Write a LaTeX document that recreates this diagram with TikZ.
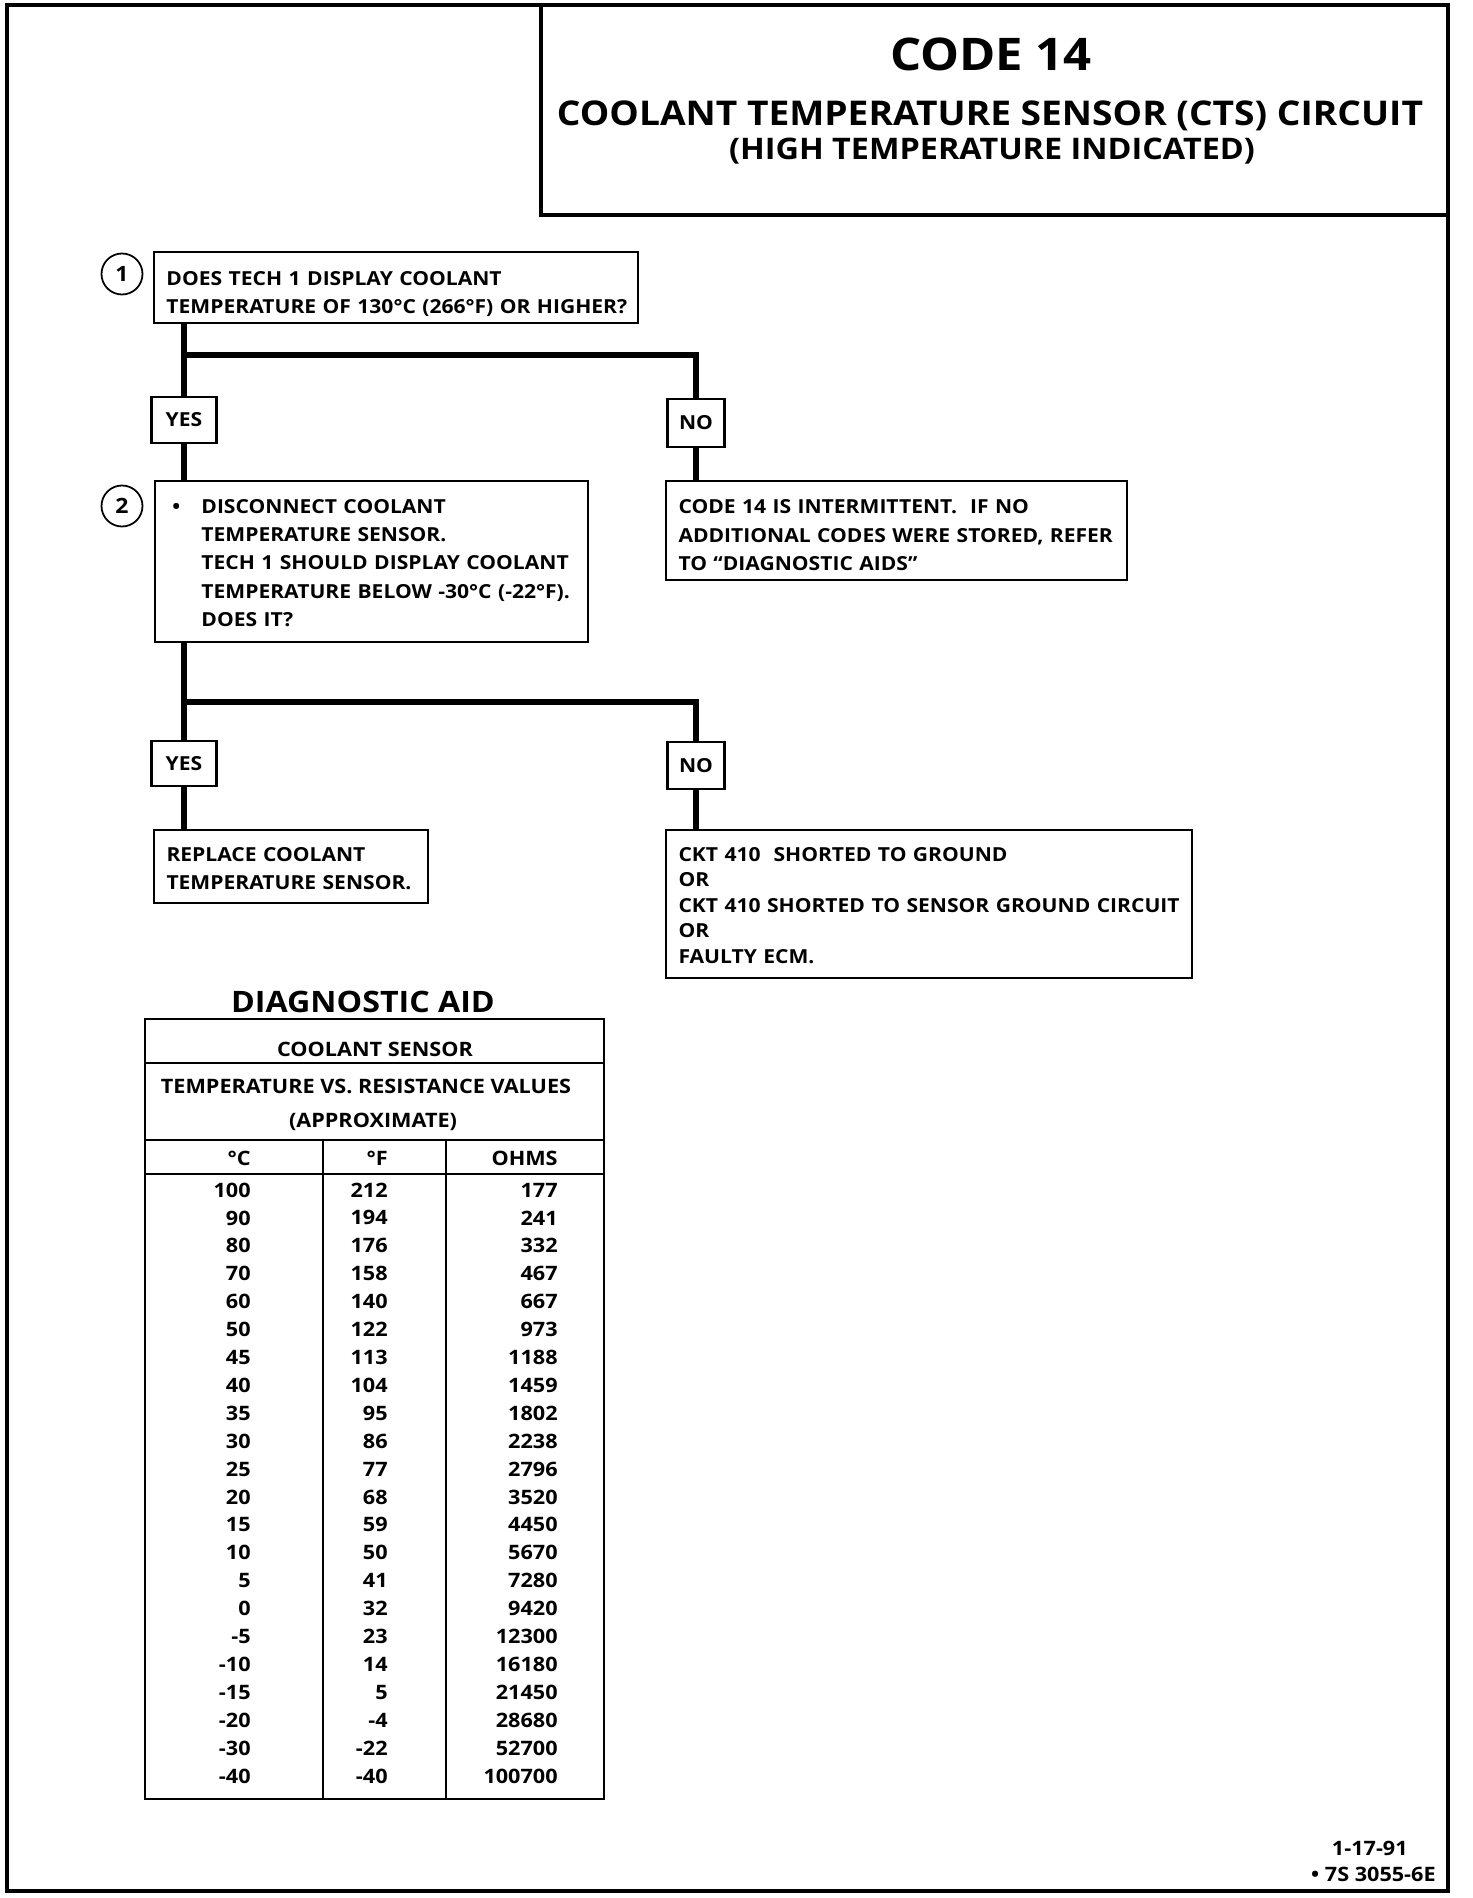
\documentclass[tikz,border=0pt]{standalone}
\usepackage{fontspec}
\setmainfont{Open Sans}[FakeStretch=1.09]
\newcommand{\filas}[2][3pt]{\raisebox{-#1}[\height][\depth]{\begin{tabular}[t]{@{}l@{}}#2\end{tabular}}}

\begin{document}
\begin{tikzpicture}[x=0.2mm, y=-0.2mm,
  caja/.style={draw, line width=1.3pt, inner xsep=2.5mm, inner ysep=0pt, align=left, font=\bfseries\fontsize{11}{16}\selectfont},
  resp/.style={draw, line width=1.3pt, inner sep=0pt, font=\bfseries\fontsize{11}{13}\selectfont},
  paso/.style={circle, draw, line width=1pt, minimum size=8.2mm, inner sep=0pt, font=\bfseries\fontsize{12}{14}\selectfont},
  flujo/.style={line width=3.2pt},
  marco/.style={line width=2.5pt},
  tabla/.style={line width=1.4pt},
  celda/.style={inner sep=0pt, font=\bfseries\fontsize{11.3}{13}\selectfont}]
\useasboundingbox (0,0) rectangle (1472,1898);
\draw[marco] (7,5) rectangle (1448,1891);
% titulo
\draw[line width=1.8pt] (541,5) rectangle (1448,215);
\node[font=\bfseries\fontsize{25.6}{30}\selectfont] (cod) at (991,54) {CODE 14};
\node[font=\bfseries\fontsize{19.4}{23}\selectfont] (tit) at (990,116) {COOLANT TEMPERATURE SENSOR (CTS) CIRCUIT};
\node[font=\bfseries\fontsize{16.9}{20}\selectfont] (sub) at (992,151) {(HIGH TEMPERATURE INDICATED)};

% paso 1
\node[paso] (n1) at (122,274) {1};
\node[caja, text width=91.8mm, minimum height=14.2mm] (p1) at (396,287.5)
  {\filas[3.4pt]{DOES TECH 1 DISPLAY COOLANT\\ TEMPERATURE OF 130°C (266°F) OR HIGHER?}};
\coordinate (rama1) at (184,355);
\node[resp, minimum width=13mm, minimum height=9.2mm] (si1) at (184,420) {YES};
\node[resp, minimum width=11.4mm, minimum height=9.6mm] (no1) at (696,423) {NO};
\node[caja, text width=87.2mm, minimum height=19.8mm] (r1) at (896.5,530.5)
  {\filas[3.4pt]{CODE 14 IS INTERMITTENT.\ \ IF NO\\ ADDITIONAL CODES WERE STORED, REFER\\ TO “DIAGNOSTIC AIDS”}};

% paso 2
\node[paso] (n2) at (122,506) {2};
\node[caja, text width=81.6mm, minimum height=32.2mm] (p2) at (371.5,561.5)
  {\raisebox{-1.6pt}[\height][\depth]{\hspace{1mm}\textbullet\hspace{4.2mm}\filas[0pt]{DISCONNECT COOLANT\\ TEMPERATURE SENSOR.\\ TECH 1 SHOULD DISPLAY COOLANT\\ TEMPERATURE BELOW -30°C (-22°F).\\ DOES IT?}}};
\coordinate (rama2) at (184,702);
\node[resp, minimum width=13mm, minimum height=9mm] (si2) at (184,763.5) {YES};
\node[resp, minimum width=11.4mm, minimum height=9.4mm] (no2) at (696,765.5) {NO};
\node[caja, text width=49.8mm, minimum height=14.6mm] (r2) at (291,866.5)
  {\filas[2pt]{REPLACE COOLANT\\ TEMPERATURE SENSOR.}};
\node[caja, text width=100.2mm, minimum height=29.6mm, font=\bfseries\fontsize{11}{14.5}\selectfont] (r3) at (929,904)
  {\filas[1.8pt]{CKT 410\ \ SHORTED TO GROUND\\ OR\\ CKT 410 SHORTED TO SENSOR GROUND CIRCUIT\\ OR\\ FAULTY ECM.}};

\draw[flujo] (si1 |- p1.south) -- (si1.north);
\draw[flujo] (rama1) -| (no1.north);
\draw[flujo] (si1.south) -- (si1 |- p2.north);
\draw[flujo] (no1.south) -- (no1 |- r1.north);
\draw[flujo] (si2 |- p2.south) -- (si2.north);
\draw[flujo] (rama2) -| (no2.north);
\draw[flujo] (si2.south) -- (si2 |- r2.north);
\draw[flujo] (no2.south) -- (no2 |- r3.north);

% tabla
\node[font=\bfseries\fontsize{16.8}{20}\selectfont] (aid) at (363,1002) {DIAGNOSTIC AID};
\draw[tabla] (145,1019) rectangle (604,1799);
\draw[tabla] (145,1063) -- (604,1063);
\draw[tabla] (145,1140) -- (604,1140);
\draw[tabla] (145,1174) -- (604,1174);
\draw[tabla] (323,1140) -- (323,1799);
\draw[tabla] (446,1140) -- (446,1799);
\node[celda] (sensor) at (375,1049) {COOLANT SENSOR};
\node[celda] (valores) at (366,1086) {TEMPERATURE VS. RESISTANCE VALUES};
\node[celda] (aprox) at (373,1122) {(APPROXIMATE)};
\node[celda, anchor=east] (hc) at (251,1158) {°C};
\node[celda, anchor=east] (hf) at (388,1158) {°F};
\node[celda, anchor=east] (ho) at (558,1158) {OHMS};
\foreach \c/\f/\o [count=\i from 0] in {100/212/177, 90/194/241, 80/176/332,
    70/158/467, 60/140/667, 50/122/973, 45/113/1188, 40/104/1459, 35/95/1802,
    30/86/2238, 25/77/2796, 20/68/3520, 15/59/4450, 10/50/5670, 5/41/7280,
    0/32/9420, -5/23/12300, -10/14/16180, -15/5/21450, -20/-4/28680,
    -30/-22/52700, -40/-40/100700} {
  \node[celda, anchor=east] (c\i) at (251,1190+27.9*\i) {\c};
  \node[celda, anchor=east] (f\i) at (388,1190+27.9*\i) {\f};
  \node[celda, anchor=east] (o\i) at (558,1190+27.9*\i) {\o};
}

% pie
\node[celda, anchor=east] (fecha) at (1408,1848) {1-17-91};
\node[celda, anchor=east] (ref) at (1436,1874) {\textbullet\ 7S 3055-6E};
\end{tikzpicture}
\end{document}
